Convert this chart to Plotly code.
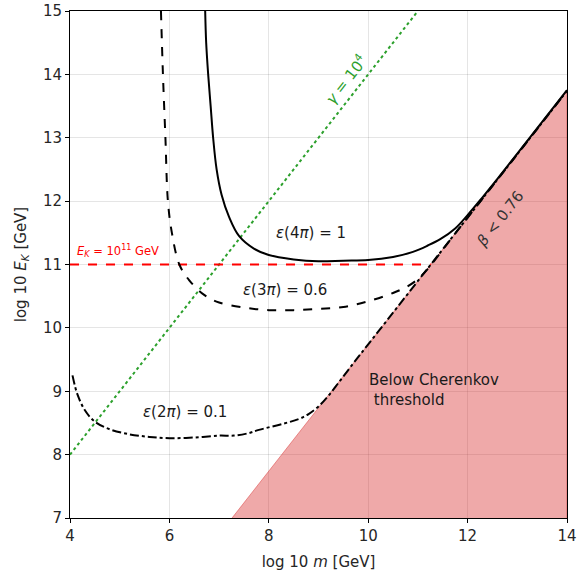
import plotly.graph_objects as go

# ---- data ----
m_4pi = [6.72, 6.74, 6.78, 6.83, 6.88, 6.95, 7.05, 7.2, 7.4, 7.7, 8.0, 8.5, 9.0, 9.5, 10.0, 10.5, 10.9, 11.2, 11.45, 11.75, 12.0, 12.3, 12.6, 13.0, 13.5, 14.0]
E_4pi = [15.0, 14.5, 14.0, 13.5, 13.0, 12.5, 12.1, 11.75, 11.45, 11.25, 11.15, 11.08, 11.05, 11.06, 11.07, 11.12, 11.2, 11.3, 11.4, 11.57, 11.78, 12.06, 12.35, 12.75, 13.25, 13.75]

m_3pi = [5.83, 5.87, 5.92, 5.97, 6.05, 6.2, 6.4, 6.7, 7.0, 7.5, 8.0, 8.5, 9.0, 9.5, 10.0, 10.5, 10.8, 11.0, 11.2, 11.4, 11.7, 12.0, 12.5, 13.0, 13.5, 14.0]
E_3pi = [15.0, 14.0, 13.0, 12.0, 11.5, 11.0, 10.75, 10.52, 10.4, 10.32, 10.28, 10.28, 10.3, 10.33, 10.42, 10.55, 10.66, 10.77, 10.93, 11.13, 11.44, 11.74, 12.24, 12.74, 13.24, 13.74]

m_2pi = [4.05, 4.15, 4.3, 4.5, 4.8, 5.2, 5.6, 6.0, 6.5, 7.0, 7.3, 7.6, 7.8, 8.3, 8.6, 8.8, 9.0, 9.2, 9.4, 9.7, 10.0, 10.5, 11.0, 11.5, 12.0, 12.5, 13.0, 13.5, 14.0]
E_2pi = [9.25, 8.95, 8.7, 8.52, 8.4, 8.32, 8.28, 8.26, 8.27, 8.3, 8.3, 8.34, 8.39, 8.49, 8.56, 8.64, 8.76, 8.93, 9.13, 9.44, 9.74, 10.24, 10.74, 11.24, 11.74, 12.24, 12.74, 13.24, 13.74]

cherenkov_m = [7.26, 14.0, 14.0]
cherenkov_E = [7.0, 13.74, 7.0]

gamma_m = [4.0, 11.0]
gamma_E = [8.0, 15.0]

ek_m = [4.0, 11.26]
ek_E = [11.0, 11.0]

x_ticks = [4, 6, 8, 10, 12, 14]
y_ticks = [7, 8, 9, 10, 11, 12, 13, 14, 15]

FONT = "DejaVu Sans"
TXT = "#262626"

fig = go.Figure()

fig.add_trace(go.Scatter(x=cherenkov_m, y=cherenkov_E, fill="toself", mode="lines",
                         fillcolor="rgba(214,39,40,0.4)",
                         line=dict(color="rgba(214,39,40,0.45)", width=1), hoverinfo="skip"))
fig.add_trace(go.Scatter(x=gamma_m, y=gamma_E, mode="lines",
                         line=dict(color="#2ca02c", width=2, dash="dot")))
fig.add_trace(go.Scatter(x=ek_m, y=ek_E, mode="lines",
                         line=dict(color="red", width=2, dash="dash")))
fig.add_trace(go.Scatter(x=m_4pi, y=E_4pi, mode="lines", line_shape="spline",
                         line=dict(color="black", width=2)))
fig.add_trace(go.Scatter(x=m_3pi, y=E_3pi, mode="lines", line_shape="spline",
                         line=dict(color="black", width=2, dash="dash")))
fig.add_trace(go.Scatter(x=m_2pi, y=E_2pi, mode="lines", line_shape="spline",
                         line=dict(color="black", width=2, dash="dashdot")))

ann_font = dict(family=FONT, size=15, color="#1a1a1a")
fig.add_annotation(x=8.85, y=11.5, text="<i>ε</i>(4<i>π</i>) = 1", showarrow=False, font=ann_font)
fig.add_annotation(x=8.33, y=10.6, text="<i>ε</i>(3<i>π</i>) = 0.6", showarrow=False, font=ann_font)
fig.add_annotation(x=6.31, y=8.68, text="<i>ε</i>(2<i>π</i>) = 0.1", showarrow=False, font=ann_font)
fig.add_annotation(x=9.98, y=9.02, text="Below Cherenkov<br> threshold", showarrow=False,
                   xanchor="left", align="left", font=ann_font)
fig.add_annotation(x=12.65, y=11.72, text="<i>β</i> < 0.76", showarrow=False, textangle=-52,
                   font=dict(family=FONT, size=15, color="#333"))
fig.add_annotation(x=9.55, y=13.93, text="<i>γ</i> = 10<sup>4</sup>", showarrow=False, textangle=-52,
                   font=dict(family=FONT, size=15, color="#2ca02c"))
fig.add_annotation(x=4.1, y=11.22, text="<i>E<sub>K</sub></i> = 10<sup>11</sup> GeV", showarrow=False,
                   xanchor="left", font=dict(family=FONT, size=11.5, color="red"))

axis_common = dict(showgrid=True, gridcolor="rgba(0,0,0,0.1)", gridwidth=1,
                   showline=True, linecolor="black", linewidth=1, mirror=True,
                   ticks="outside", ticklen=4, tickcolor="black", zeroline=False,
                   automargin=False,
                   tickfont=dict(family=FONT, size=15, color=TXT))

fig.update_xaxes(range=[4, 14], tickvals=x_ticks,
                 title=dict(text="log 10 <i>m</i> [GeV]", font=dict(family=FONT, size=15, color=TXT), standoff=12),
                 **axis_common)
fig.update_yaxes(range=[7, 15], tickvals=y_ticks,
                 title=dict(text="log 10 <i>E<sub>K</sub></i> [GeV]", font=dict(family=FONT, size=15, color=TXT), standoff=12),
                 **axis_common)

fig.update_layout(width=579, height=574, showlegend=False,
                  margin=dict(l=70, r=12, t=11, b=56),
                  plot_bgcolor="white", paper_bgcolor="white",
                  font=dict(family=FONT))

fig.write_html("out.html")
